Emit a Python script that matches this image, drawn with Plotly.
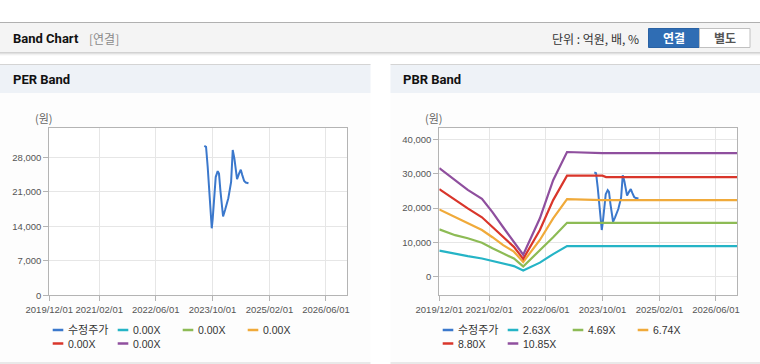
import plotly.graph_objects as go

W, H = 760, 364

# ---------------- data ----------------
tick_dates = ["2019-12-01", "2021-02-01", "2022-06-01", "2023-10-01", "2025-02-01", "2026-06-01"]
tick_labels = ["2019/12/01", "2021/02/01", "2022/06/01", "2023/10/01", "2025/02/01", "2026/06/01"]
x_range = ["2019-12-01", "2026-12-01"]

per_ticks = [0, 7000, 14000, 21000, 28000]
per_tick_labels = ["0", "7,000", "14,000", "21,000", "28,000"]
pbr_ticks = [0, 10000, 20000, 30000, 40000]
pbr_tick_labels = ["0", "10,000", "20,000", "30,000", "40,000"]

price_name = "수정주가"
price_dates = ["2023-07-23", "2023-08-07", "2023-08-21", "2023-09-10", "2023-09-25",
               "2023-10-03", "2023-10-17", "2023-10-29", "2023-11-15", "2023-11-26",
               "2023-12-08", "2023-12-31", "2024-01-17", "2024-02-14", "2024-03-09",
               "2024-03-23", "2024-04-06", "2024-04-18", "2024-04-29", "2024-05-16",
               "2024-05-31", "2024-06-13", "2024-06-29", "2024-07-13", "2024-08-05"]
price_values = [30350, 30150, 26100, 19300, 13600,
                15500, 19500, 24000, 25200, 24700,
                21300, 16000, 17300, 19700, 23000,
                29500, 27800, 25800, 23600, 24700,
                25500, 24400, 23200, 22900, 22750]

per_band_names = ["0.00X", "0.00X", "0.00X", "0.00X", "0.00X"]
per_band_values = [None] * len(price_dates)

band_dates = ["2019-12-01", "2020-04-15", "2020-08-01", "2020-12-01", "2021-03-01",
              "2021-06-01", "2021-09-01", "2021-11-20", "2022-04-12", "2022-08-04",
              "2022-12-01", "2023-06-01", "2023-10-01", "2023-11-01", "2026-12-01"]
pbr_band_names = ["2.63X", "4.69X", "6.74X", "8.80X", "10.85X"]
band_263 = [7600, 6600, 6000, 5300, 4600, 3900, 3100, 1800, 4100, 6600, 8900, 8900, 8900, 8900, 8900]
band_469 = [13800, 12100, 11200, 9900, 8300, 6800, 5300, 3000, 7600, 11500, 15700, 15700, 15700, 15700, 15700]
band_674 = [19600, 17300, 15500, 13600, 11500, 9200, 7300, 4300, 10700, 17000, 22600, 22300, 22300, 22300, 22300]
band_880 = [25500, 22300, 19900, 17300, 14500, 11600, 8700, 5200, 13600, 22300, 29400, 29400, 29400, 29000, 29000]
band_1085 = [31600, 28200, 25300, 22700, 18800, 14400, 10200, 6400, 17000, 28100, 36300, 36000, 36000, 36000, 36000]
pbr_band_values = [band_263, band_469, band_674, band_880, band_1085]

# ---------------- styles ----------------
price_color = "#3b78cc"
band_colors = ["#25b4c6", "#8dbb55", "#f0aa3a", "#d9362b", "#8f4f9e"]
grid_c = "#e6e6e6"
axis_c = "#b4b4b4"
tick_font = dict(family="Liberation Sans, Arial, sans-serif", size=9.5, color="#555555")
KR = "Noto Sans CJK KR, sans-serif"


def X(px):
    return px / W


def Y(py):
    return 1 - py / H


fig = go.Figure()

# PER chart traces
fig.add_trace(go.Scatter(x=price_dates, y=price_values, mode="lines", name=price_name,
                         line=dict(color=price_color, width=2), xaxis="x", yaxis="y",
                         showlegend=False, hoverinfo="skip"))
for nm, c in zip(per_band_names, band_colors):
    fig.add_trace(go.Scatter(x=price_dates, y=per_band_values, mode="lines", name=nm,
                             line=dict(color=c, width=2), xaxis="x", yaxis="y",
                             showlegend=False, connectgaps=False, hoverinfo="skip"))

# PBR chart traces
fig.add_trace(go.Scatter(x=price_dates, y=price_values, mode="lines", name=price_name,
                         line=dict(color=price_color, width=2), xaxis="x2", yaxis="y2",
                         showlegend=False, hoverinfo="skip"))
for nm, c, vals in zip(pbr_band_names, band_colors, pbr_band_values):
    fig.add_trace(go.Scatter(x=band_dates, y=vals, mode="lines", name=nm,
                             line=dict(color=c, width=2.2), xaxis="x2", yaxis="y2",
                             showlegend=False, hoverinfo="skip"))

common_x = dict(type="date", range=x_range, tickvals=tick_dates, ticktext=tick_labels,
                tickangle=0, automargin=False,
                showgrid=True, gridcolor=grid_c, gridwidth=1, showline=True, linecolor=axis_c,
                linewidth=1, mirror=True, ticks="outside", ticklen=5, tickcolor=axis_c,
                tickfont=tick_font, zeroline=False, fixedrange=True)
common_y = dict(showgrid=True, gridcolor=grid_c, gridwidth=1, showline=True, linecolor=axis_c,
                linewidth=1, mirror=True, ticks="outside", ticklen=5, tickcolor=axis_c,
                automargin=False,
                tickfont=tick_font, zeroline=False, fixedrange=True)

ydom = [Y(295.3), Y(128.3)]
fig.update_layout(
    width=W, height=H, autosize=False, margin=dict(l=0, r=0, t=0, b=0, pad=0, autoexpand=False),
    paper_bgcolor="white", plot_bgcolor="white", showlegend=False,
    xaxis=dict(domain=[X(49.3), X(347.3)], anchor="y", **common_x),
    yaxis=dict(domain=ydom, anchor="x", range=[0, 33900], tickvals=per_ticks,
               ticktext=per_tick_labels, **common_y),
    xaxis2=dict(domain=[X(439.3), X(737.3)], anchor="y2", **common_x),
    yaxis2=dict(domain=ydom, anchor="x2", range=[-5400, 43200], tickvals=pbr_ticks,
                ticktext=pbr_tick_labels, **common_y),
)

shapes = []
# header
shapes.append(dict(type="rect", xref="paper", yref="paper", x0=0, x1=1, y0=Y(52.5), y1=Y(22.5),
                   fillcolor="#f4f4f4", line=dict(width=0), layer="below"))
shapes.append(dict(type="line", xref="paper", yref="paper", x0=0, x1=1, y0=Y(22.5), y1=Y(22.5),
                   line=dict(color="#b0b0b0", width=1), layer="below"))
for py, col in [(52.8, "#c2c2c2"), (53.8, "#dcdcdc"), (54.8, "#efefef")]:
    shapes.append(dict(type="line", xref="paper", yref="paper", x0=0, x1=1, y0=Y(py), y1=Y(py),
                       line=dict(color=col, width=1), layer="below"))
# buttons
shapes.append(dict(type="rect", xref="paper", yref="paper", x0=X(648.5), x1=X(699.5), y0=Y(47.5), y1=Y(28.5),
                   fillcolor="#2f6db4", line=dict(color="#2a62a4", width=1), layer="below"))
shapes.append(dict(type="rect", xref="paper", yref="paper", x0=X(699.5), x1=X(750), y0=Y(47.5), y1=Y(28.5),
                   fillcolor="#ffffff", line=dict(color="#c0c0c0", width=1), layer="below"))
# panels
for x0, x1 in [(0, 370.5), (390.5, 760)]:
    shapes.append(dict(type="rect", xref="paper", yref="paper", x0=X(x0), x1=X(x1), y0=Y(363), y1=Y(93),
                       fillcolor="#fdfdfd", line=dict(width=0), layer="below"))
    shapes.append(dict(type="rect", xref="paper", yref="paper", x0=X(x0), x1=X(x1), y0=Y(93), y1=Y(64.5),
                       fillcolor="#eef2f7", line=dict(width=0), layer="below"))
    shapes.append(dict(type="line", xref="paper", yref="paper", x0=X(x0), x1=X(x1), y0=Y(64.5), y1=Y(64.5),
                       line=dict(color="#d4d4d4", width=1), layer="below"))
    shapes.append(dict(type="line", xref="paper", yref="paper", x0=X(x0), x1=X(x1), y0=Y(363), y1=Y(363),
                       line=dict(color="#d4d4d4", width=1), layer="below"))
# plot area white
for xr, yr in [("x domain", "y domain"), ("x2 domain", "y2 domain")]:
    shapes.append(dict(type="rect", xref=xr, yref=yr, x0=0, x1=1, y0=0, y1=1,
                       fillcolor="white", line=dict(width=0), layer="below"))

annotations = []


def txt(px, py, s, size=12, color="#222", family=KR, anchor="left", bold=False):
    if bold:
        s = "<b>" + s + "</b>"
    annotations.append(dict(x=X(px), y=Y(py), xref="paper", yref="paper", text=s, showarrow=False,
                            xanchor=anchor, yanchor="middle",
                            font=dict(size=size, color=color, family=family)))


TITLE = "Roboto, Noto Sans CJK KR, sans-serif"
txt(11, 38.5, "Band Chart", 13, "#111", TITLE, bold=True)
txt(87, 38.5, "[연결]", 12, "#8a8a8a", KR)
txt(641, 38.5, "단위 : 억원, 배, %", 12, "#333", KR, anchor="right")
txt(674, 38, "연결", 12, "#ffffff", KR, anchor="center", bold=True)
txt(725, 38, "별도", 12, "#555555", KR, anchor="center", bold=True)
txt(11, 79.5, "PER Band", 13, "#111", TITLE, bold=True)
txt(401, 79.5, "PBR Band", 13, "#111", TITLE, bold=True)
txt(43.5, 118, "(원)", 11, "#666", KR, anchor="center")
txt(434, 118, "(원)", 11, "#666", KR, anchor="center")

# custom legends
LEG = "Liberation Sans, Noto Sans CJK KR, sans-serif"
for base, names in [(52.7, [price_name] + per_band_names), (442.7, [price_name] + pbr_band_names)]:
    colors = [price_color] + band_colors
    for i, (nm, c) in enumerate(zip(names, colors)):
        row, col = divmod(i, 4)
        lx = base + 65 * col
        ly = 330 + 13.5 * row
        shapes.append(dict(type="line", xref="paper", yref="paper", x0=X(lx), x1=X(lx + 10.6),
                           y0=Y(ly), y1=Y(ly), line=dict(color=c, width=2.5)))
        txt(lx + 13, ly, nm, 11 if nm == price_name else 10.5, "#333", LEG)

fig.update_layout(shapes=shapes, annotations=annotations)

fig.write_html("out.html", include_plotlyjs=True,
               config={"displayModeBar": False, "responsive": False},
               default_width="760px", default_height="364px",
               post_script="document.body.style.margin='0';document.body.style.overflow='hidden';"
                           "document.documentElement.style.overflow='hidden';")
